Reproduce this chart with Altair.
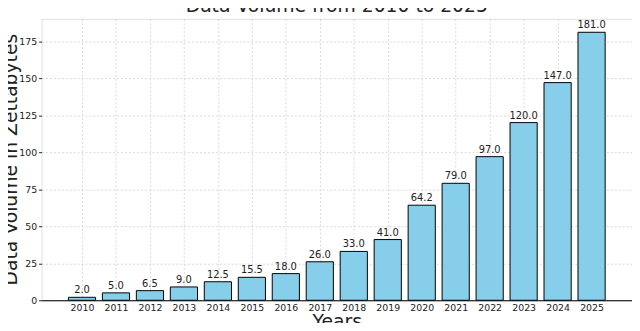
import altair as alt
import pandas as pd

years = [2010, 2011, 2012, 2013, 2014, 2015, 2016, 2017, 2018, 2019, 2020, 2021, 2022, 2023, 2024, 2025]
volumes = [2.0, 5.0, 6.5, 9.0, 12.5, 15.5, 18.0, 26.0, 33.0, 41.0, 64.2, 79.0, 97.0, 120.0, 147.0, 181.0]
y_ticks = [0, 25, 50, 75, 100, 125, 150, 175]

df = pd.DataFrame({"year": years, "volume": volumes})

FONT = "DejaVu Sans"

base = alt.Chart(df).transform_calculate(
    x0="datum.year - 0.4", x1="datum.year + 0.4"
)

xscale = alt.Scale(domain=[2008.81, 2026.19], nice=False, zero=False)
yscale = alt.Scale(domain=[0, 190.05], nice=False)

xaxis = alt.Axis(values=years, format="d", title="Years", titleFontSize=19,
                 titleFont=FONT, titleFontWeight="normal", titleColor="#222",
                 titleX=299, titleY=28, titleBaseline="alphabetic", titleAlign="center",
                 labelFont=FONT, labelFontSize=9.5, labelColor="#222",
                 labelPadding=2, tickSize=0, domainColor="black", domainWidth=1.2,
                 grid=True, gridDash=[2, 2], gridColor="#cfcfcf", gridWidth=0.8,
                 labelOverlap=False, labelFlush=False)
yaxis = alt.Axis(values=y_ticks, title="Data Volume in Zettabytes",
                 titleFontSize=19, titleFont=FONT, titleFontWeight="normal", titleColor="#222",
                 titleX=-25, titleY=142, titleAngle=-90, titleBaseline="alphabetic",
                 titleAlign="center",
                 labelFont=FONT, labelFontSize=9.5, labelColor="#222",
                 labelPadding=2, tickSize=3, tickColor="#222", domain=False,
                 grid=True, gridDash=[2, 2], gridColor="#cfcfcf", gridWidth=0.8)

bars = base.mark_bar(color="#87CEEB", stroke="black", strokeWidth=1).encode(
    x=alt.X("x0:Q", scale=xscale, axis=xaxis),
    x2="x1:Q",
    y=alt.Y("volume:Q", scale=yscale, axis=yaxis),
    y2=alt.datum(0),
)

labels = base.mark_text(font=FONT, fontSize=10, color="#222", baseline="bottom", dy=-2).encode(
    x=alt.X("year:Q", scale=xscale, axis=xaxis),
    y=alt.Y("volume:Q", scale=yscale, axis=yaxis),
    text=alt.Text("volume:Q", format=".1f"),
)

chart = alt.layer(bars, labels).properties(
    width=598, height=285,
    title=alt.TitleParams("Data Volume from 2010 to 2025", font=FONT, fontSize=19,
                          fontWeight="normal", color="#222", anchor="middle", offset=2.5),
    autosize=alt.AutoSizeParams(type="none"),
    padding={"left": 34, "top": 9, "right": 0, "bottom": 21},
).configure_view(stroke="#e0e0e0", strokeWidth=1)

chart.save("out.html", embed_options={"renderer": "svg", "actions": False})
